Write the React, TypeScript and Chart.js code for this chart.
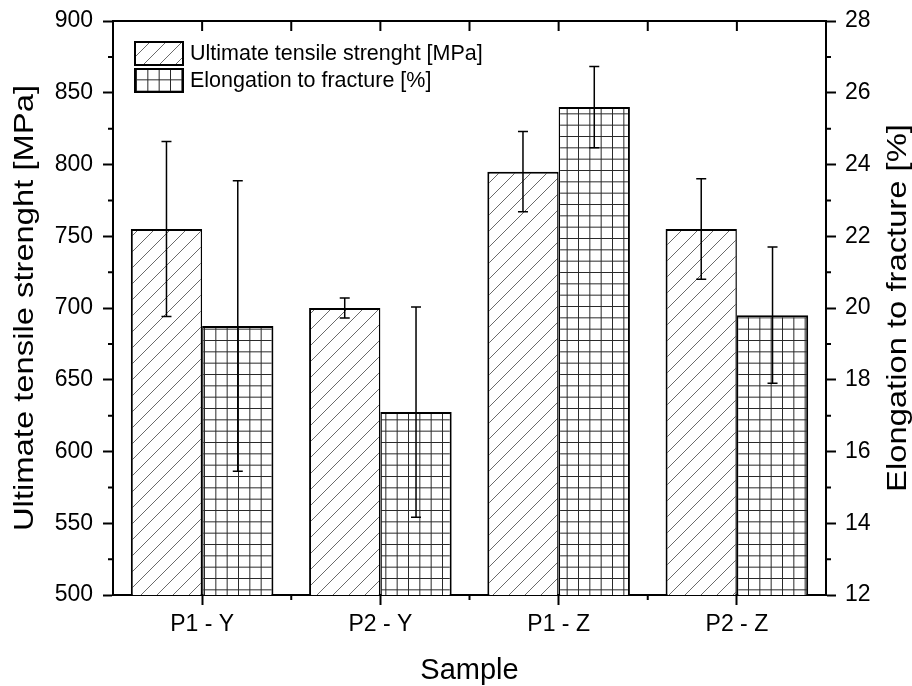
import { useEffect, useRef } from 'react';
import { Chart, registerables } from 'chart.js';

Chart.register(...registerables);

// ---- data ----
const categories = ['P1 - Y', 'P2 - Y', 'P1 - Z', 'P2 - Z'];
const utsValues = [755, 700, 795, 755];
const utsErrors = [61, 7, 28, 35];
const elongValues = [19.5, 17.1, 25.6, 19.8];
const elongErrors = [4.05, 2.93, 1.13, 1.9];
const seriesLabels = ['Ultimate tensile strenght [MPa]', 'Elongation to fracture [%]'];
const leftRange = [500, 900];
const leftStep = 50;
const rightRange = [12, 28];
const rightStep = 2;
const xTitle = 'Sample';
const leftTitle = 'Ultimate tensile strenght [MPa]';
const rightTitle = 'Elongation to fracture [%]';

const FONT = '"Liberation Sans", Arial, Helvetica, sans-serif';

function makeDiagonal(): CanvasPattern {
  const s = 16;
  const c = document.createElement('canvas');
  c.width = s; c.height = s;
  const g = c.getContext('2d')!;
  g.fillStyle = '#ffffff';
  g.fillRect(0, 0, s, s);
  g.strokeStyle = '#6a6a6a';
  g.lineWidth = 1;
  g.beginPath();
  g.moveTo(-2, s + 2); g.lineTo(s + 2, -2);
  g.moveTo(-2, 2); g.lineTo(2, -2);
  g.moveTo(s - 2, s + 2); g.lineTo(s + 2, s - 2);
  g.stroke();
  return g.createPattern(c, 'repeat')!;
}

function makeGrid(): CanvasPattern {
  const s = 34;
  const c = document.createElement('canvas');
  c.width = s; c.height = s;
  const g = c.getContext('2d')!;
  g.fillStyle = '#ffffff';
  g.fillRect(0, 0, s, s);
  g.strokeStyle = '#2a2a2a';
  g.lineWidth = 1;
  g.beginPath();
  for (let i = 0; i < 3; i++) {
    const p = (i * s) / 3 + 0.5;
    g.moveTo(p, 0); g.lineTo(p, s);
    g.moveTo(0, p); g.lineTo(s, p);
  }
  g.stroke();
  return g.createPattern(c, 'repeat')!;
}

const decorPlugin = {
  id: 'decor',
  afterDatasetsDraw(chart: any) {
    const ctx = chart.ctx;
    const errs = [utsErrors, elongErrors];
    const vals = [utsValues, elongValues];
    ctx.save();
    ctx.strokeStyle = '#000';
    ctx.lineWidth = 1.5;
    for (let d = 0; d < 2; d++) {
      const meta = chart.getDatasetMeta(d);
      const sc = chart.scales[meta.yAxisID];
      meta.data.forEach((el: any, i: number) => {
        const x = el.x;
        const yt = sc.getPixelForValue(vals[d][i] + errs[d][i]);
        const yb = sc.getPixelForValue(vals[d][i] - errs[d][i]);
        ctx.beginPath();
        ctx.moveTo(x, yt); ctx.lineTo(x, yb);
        ctx.moveTo(x - 5, yt); ctx.lineTo(x + 5, yt);
        ctx.moveTo(x - 5, yb); ctx.lineTo(x + 5, yb);
        ctx.stroke();
      });
    }
    ctx.restore();
  },
  afterDraw(chart: any) {
    const ctx = chart.ctx;
    const { left, right, top, bottom } = chart.chartArea;
    const xs = chart.scales.x;
    const yl = chart.scales.y;
    const yr = chart.scales.y2;
    ctx.save();
    ctx.strokeStyle = '#000';
    ctx.lineWidth = 2;
    // top frame
    ctx.beginPath();
    ctx.moveTo(left - 1, top);
    ctx.lineTo(right + 1, top);
    ctx.stroke();
    // top + bottom ticks
    const n = categories.length;
    const centers = categories.map((_, i) => xs.getPixelForValue(i));
    const bounds: number[] = [];
    for (let i = 0; i < n - 1; i++) bounds.push((centers[i] + centers[i + 1]) / 2);
    ctx.beginPath();
    [...centers, ...bounds].forEach((x) => {
      ctx.moveTo(x, top); ctx.lineTo(x, top + 10);
    });
    bounds.forEach((x) => {
      ctx.moveTo(x, bottom); ctx.lineTo(x, bottom + 5);
    });
    // minor ticks
    for (let v = leftRange[0] + leftStep / 2; v < leftRange[1]; v += leftStep) {
      const y = yl.getPixelForValue(v);
      ctx.moveTo(left - 5, y); ctx.lineTo(left, y);
    }
    for (let v = rightRange[0] + rightStep / 2; v < rightRange[1]; v += rightStep) {
      const y = yr.getPixelForValue(v);
      ctx.moveTo(right, y); ctx.lineTo(right + 5, y);
    }
    ctx.stroke();

    // axis titles
    ctx.fillStyle = '#000';
    const cy = (top + bottom) / 2;
    ctx.font = `28px ${FONT}`;
    ctx.textAlign = 'center';
    ctx.textBaseline = 'alphabetic';
    ctx.save();
    ctx.translate(33, cy);
    ctx.rotate(-Math.PI / 2);
    ctx.scale(1.17, 1);
    ctx.fillText(leftTitle, 0, 0);
    ctx.restore();
    ctx.save();
    ctx.translate(906, cy);
    ctx.rotate(-Math.PI / 2);
    ctx.scale(1.17, 1);
    ctx.fillText(rightTitle, 0, 0);
    ctx.restore();
    ctx.font = `29px ${FONT}`;
    ctx.fillText(xTitle, (left + right) / 2, 679);

    // legend
    const bx = left + 22;
    let by = top + 21;
    const bw = 48, bh = 23;
    ctx.font = `21.5px ${FONT}`;
    ctx.textAlign = 'left';
    ctx.textBaseline = 'middle';
    chart.data.datasets.forEach((ds: any) => {
      ctx.fillStyle = ds.backgroundColor;
      ctx.fillRect(bx, by, bw, bh);
      ctx.lineWidth = 2;
      ctx.strokeStyle = '#000';
      ctx.strokeRect(bx, by, bw, bh);
      ctx.fillStyle = '#000';
      ctx.fillText(ds.label, bx + bw + 7, by + bh / 2 + 1);
      by += 27;
    });
    ctx.restore();
  },
};

export default function App() {
  const ref = useRef<HTMLCanvasElement>(null);
  useEffect(() => {
    if (!ref.current) return;
    const diag = makeDiagonal();
    const grid = makeGrid();
    const tickFont = { family: FONT, size: 23 };
    const chart = new Chart(ref.current, {
      type: 'bar',
      data: {
        labels: categories,
        datasets: [
          {
            label: seriesLabels[0],
            data: utsValues,
            yAxisID: 'y',
            backgroundColor: diag as any,
            borderColor: '#000',
            borderWidth: { left: 2, top: 2, right: 1.5, bottom: 0 } as any,
            borderSkipped: 'start',
            categoryPercentage: 0.8,
            barPercentage: 1.0,
          },
          {
            label: seriesLabels[1],
            data: elongValues,
            yAxisID: 'y2',
            backgroundColor: grid as any,
            borderColor: '#000',
            borderWidth: { left: 1.5, top: 2, right: 2, bottom: 0 } as any,
            borderSkipped: 'start',
            categoryPercentage: 0.8,
            barPercentage: 1.0,
          },
        ],
      },
      options: {
        responsive: false,
        animation: false,
        layout: { padding: { top: 21, left: 0, right: 0, bottom: 0 } },
        plugins: { legend: { display: false }, tooltip: { enabled: false } },
        scales: {
          x: {
            type: 'category',
            offset: true,
            grid: { display: true, drawOnChartArea: false, drawTicks: true, tickLength: 10, tickWidth: 2, tickColor: '#000', offset: false },
            border: { display: true, width: 2, color: '#000' },
            ticks: { font: tickFont, color: '#000', padding: 6, maxRotation: 0, autoSkip: false },
            afterFit: (s: any) => { s.height = 91; s.paddingLeft = 0; s.paddingRight = 0; },
          },
          y: {
            type: 'linear',
            position: 'left',
            min: leftRange[0],
            max: leftRange[1],
            grid: { display: true, drawOnChartArea: false, drawTicks: true, tickLength: 10, tickWidth: 2, tickColor: '#000' },
            border: { display: true, width: 2, color: '#000' },
            ticks: { stepSize: leftStep, font: tickFont, color: '#000', padding: 10 },
            afterFit: (s: any) => { s.width = 113; s.paddingTop = 0; s.paddingBottom = 0; },
          },
          y2: {
            type: 'linear',
            position: 'right',
            min: rightRange[0],
            max: rightRange[1],
            grid: { display: true, drawOnChartArea: false, drawTicks: true, tickLength: 10, tickWidth: 2, tickColor: '#000' },
            border: { display: true, width: 2, color: '#000' },
            ticks: { stepSize: rightStep, font: tickFont, color: '#000', padding: 9 },
            afterFit: (s: any) => { s.width = 86; s.paddingTop = 0; s.paddingBottom = 0; },
          },
        },
      },
      plugins: [decorPlugin],
    });
    return () => chart.destroy();
  }, []);
  return (
    <div style={{ position: 'absolute', left: 0, top: 0, width: 912, height: 686, background: '#fff' }}>
      <canvas ref={ref} width={912} height={686} style={{ display: 'block' }} />
    </div>
  );
}
